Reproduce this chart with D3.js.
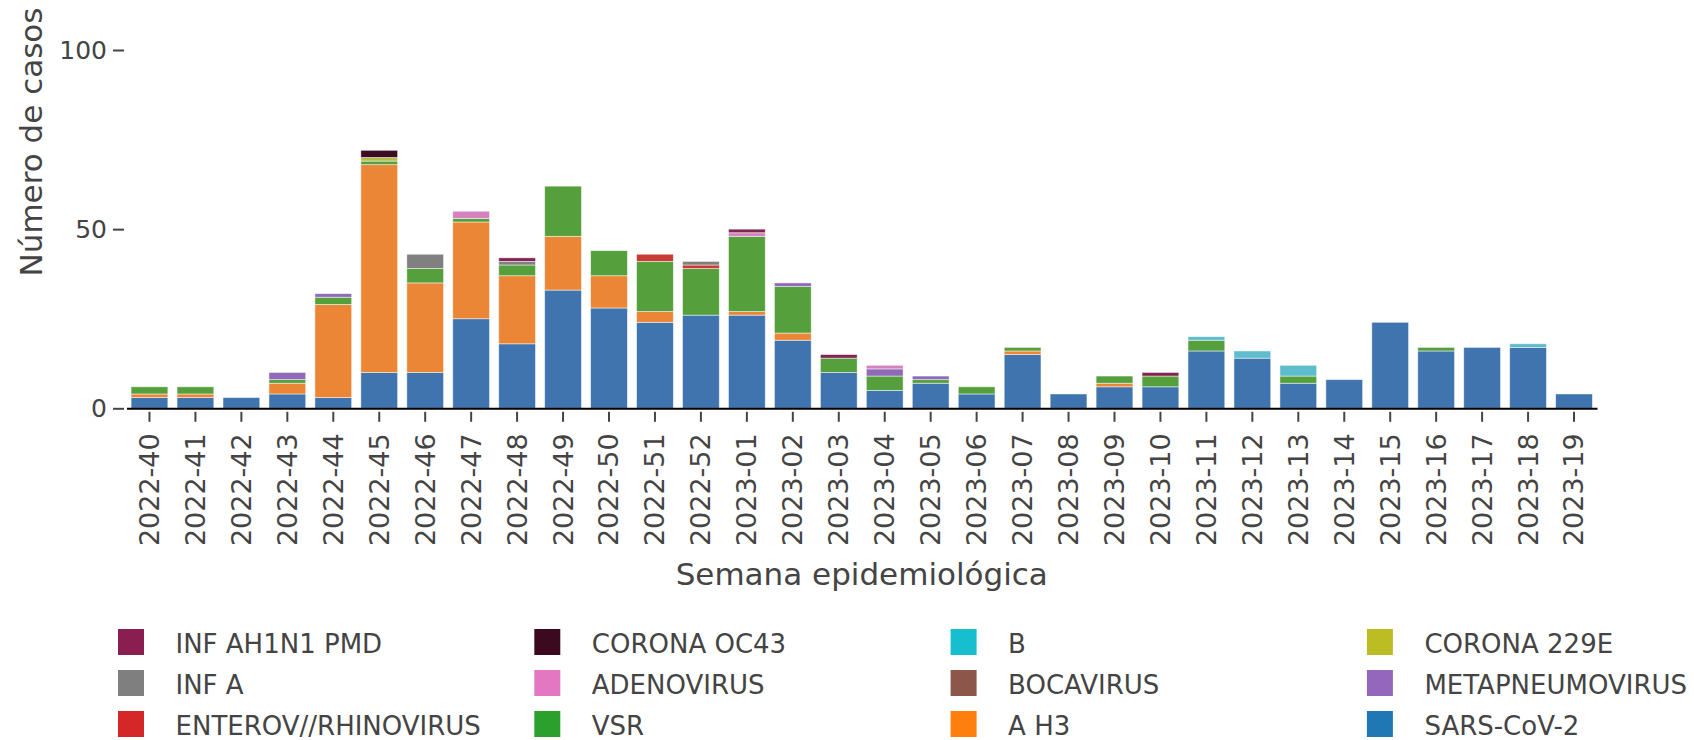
<!DOCTYPE html>
<html>
<head>
<meta charset="utf-8">
<script src="https://cdn.jsdelivr.net/npm/d3@7"></script>
<style>
	body { margin: 0; background: #fff; }
	svg text { font-family: "DejaVu Sans", sans-serif; fill: #444; }
</style>
</head>
<body>
<div class="chart"></div>
<script>
// epidemiological weeks on the x axis
const weeks = ["2022-40", "2022-41", "2022-42", "2022-43", "2022-44", "2022-45", "2022-46", "2022-47",
	"2022-48", "2022-49", "2022-50", "2022-51", "2022-52", "2023-01", "2023-02", "2023-03",
	"2023-04", "2023-05", "2023-06", "2023-07", "2023-08", "2023-09", "2023-10", "2023-11",
	"2023-12", "2023-13", "2023-14", "2023-15", "2023-16", "2023-17", "2023-18", "2023-19"];

// cases per week for each virus
const sarsCov2   = [3, 3, 3, 4, 3, 10, 10, 25, 18, 33, 28, 24, 26, 26, 19, 10, 5, 7, 4, 15, 4, 6, 6, 16, 14, 7, 8, 24, 16, 17, 17, 4];
const aH3        = [1, 1, 0, 3, 26, 58, 25, 27, 19, 15, 9, 3, 0, 1, 2, 0, 0, 0, 0, 1, 0, 1, 0, 0, 0, 0, 0, 0, 0, 0, 0, 0];
const vsr        = [2, 2, 0, 1, 2, 1, 4, 1, 3, 14, 7, 14, 13, 21, 13, 4, 4, 1, 2, 1, 0, 2, 3, 3, 0, 2, 0, 0, 1, 0, 0, 0];
const enterov    = [0, 0, 0, 0, 0, 0, 0, 0, 0, 0, 0, 2, 1, 0, 0, 0, 0, 0, 0, 0, 0, 0, 0, 0, 0, 0, 0, 0, 0, 0, 0, 0];
const metapneumo = [0, 0, 0, 2, 1, 0, 0, 0, 0, 0, 0, 0, 0, 0, 1, 0, 2, 1, 0, 0, 0, 0, 0, 0, 0, 0, 0, 0, 0, 0, 0, 0];
const bocavirus  = [0, 0, 0, 0, 0, 0, 0, 0, 0, 0, 0, 0, 0, 0, 0, 0, 0, 0, 0, 0, 0, 0, 0, 0, 0, 0, 0, 0, 0, 0, 0, 0];
const adenovirus = [0, 0, 0, 0, 0, 0, 0, 2, 0, 0, 0, 0, 0, 1, 0, 0, 1, 0, 0, 0, 0, 0, 0, 0, 0, 0, 0, 0, 0, 0, 0, 0];
const infA       = [0, 0, 0, 0, 0, 0, 4, 0, 1, 0, 0, 0, 1, 0, 0, 0, 0, 0, 0, 0, 0, 0, 0, 0, 0, 0, 0, 0, 0, 0, 0, 0];
const corona229E = [0, 0, 0, 0, 0, 1, 0, 0, 0, 0, 0, 0, 0, 0, 0, 0, 0, 0, 0, 0, 0, 0, 0, 0, 0, 0, 0, 0, 0, 0, 0, 0];
const infB       = [0, 0, 0, 0, 0, 0, 0, 0, 0, 0, 0, 0, 0, 0, 0, 0, 0, 0, 0, 0, 0, 0, 0, 1, 2, 3, 0, 0, 0, 0, 1, 0];
const coronaOC43 = [0, 0, 0, 0, 0, 2, 0, 0, 0, 0, 0, 0, 0, 0, 0, 0, 0, 0, 0, 0, 0, 0, 0, 0, 0, 0, 0, 0, 0, 0, 0, 0];
const ah1n1      = [0, 0, 0, 0, 0, 0, 0, 0, 1, 0, 0, 0, 0, 1, 0, 1, 0, 0, 0, 0, 0, 0, 1, 0, 0, 0, 0, 0, 0, 0, 0, 0];

// stacking order, bottom to top
const seriesNames = ["SARS-CoV-2", "A H3", "VSR", "ENTEROV//RHINOVIRUS", "METAPNEUMOVIRUS", "BOCAVIRUS",
	"ADENOVIRUS", "INF A", "CORONA 229E", "B", "CORONA OC43", "INF AH1N1 PMD"];
const seriesValues = [sarsCov2, aH3, vsr, enterov, metapneumo, bocavirus,
	adenovirus, infA, corona229E, infB, coronaOC43, ah1n1];

const yTicks = [0, 50, 100];
const xTitle = "Semana epidemiológica";
const yTitle = "Número de casos";

// legend swatch colours and the (slightly muted) bar colours
const legendColors = ["#1f77b4", "#ff7f0e", "#2ca02c", "#d62728", "#9467bd", "#8c564b",
	"#e377c2", "#7f7f7f", "#bcbd22", "#17becf", "#3b0a1f", "#8b1e50"];
const barColors = ["#4074ae", "#ec8637", "#55a03d", "#c73d36", "#8e6ab8", "#8a5a50",
	"#d681bf", "#808080", "#b9bd45", "#5fbccd", "#3a0d21", "#7e2550"];

const width = 1694, height = 740;
const plot = { left: 126.5, right: 1597, zero: 408.3, top100: 50 };

drawChart();

function drawChart() {
	let svg = d3.select("div.chart").append("svg")
		.attr("width", width)
		.attr("height", height);

	// one row per week, one column per virus
	let table = weeks.map((w, i) => {
		let row = { week: w };
		seriesNames.forEach((s, k) => row[s] = seriesValues[k][i]);
		return row;
	});
	let stacked = d3.stack().keys(seriesNames)(table);

	let x = d3.scaleBand()
		.domain(weeks)
		.range([plot.left, plot.right])
		.paddingInner(0.2)
		.paddingOuter(0.1);

	let y = d3.scaleLinear()
		.domain([0, 100])
		.range([plot.zero, plot.top100]);

	// bars
	svg.append("g")
		.selectAll("g")
		.data(stacked)
		.join("g")
		  .attr("fill", (d, i) => barColors[i])
		.selectAll("rect")
		.data(d => d.filter(s => s[1] > s[0]))
		.join("rect")
		  .attr("x", d => x(d.data.week))
		  .attr("width", x.bandwidth())
		  .attr("y", d => y(d[1]))
		  .attr("height", d => y(d[0]) - y(d[1]))
		  .attr("stroke", "#fff")
		  .attr("stroke-opacity", 0.6)
		  .attr("stroke-width", 0.8);

	// x axis
	let xAxis = svg.append("g")
		.attr("transform", "translate(0," + plot.zero + ")")
		.call(d3.axisBottom(x).tickSize(0).tickSizeOuter(0));
	xAxis.select(".domain")
		.attr("stroke", "#000")
		.attr("stroke-width", 2);
	xAxis.selectAll(".tick line")
		.attr("y1", 3.5)
		.attr("y2", 13.5)
		.attr("stroke", "#444")
		.attr("stroke-width", 2);
	xAxis.selectAll(".tick text")
		.attr("transform", "translate(0,25) rotate(-90)")
		.attr("x", 0)
		.attr("y", 0)
		.attr("dy", "0.35em")
		.attr("text-anchor", "end")
		.style("font-size", "27px")
		.style("font-family", "DejaVu Sans")
		.attr("fill", "#444");

	// y axis (ticks and labels only)
	let yAxis = svg.append("g")
		.attr("transform", "translate(" + (plot.left - 2.5) + ",0)")
		.call(d3.axisLeft(y).tickValues(yTicks).tickSize(11).tickPadding(6));
	yAxis.select(".domain").remove();
	yAxis.selectAll(".tick line")
		.attr("stroke", "#444")
		.attr("stroke-width", 2);
	yAxis.selectAll(".tick text")
		.style("font-size", "25px")
		.style("font-family", "DejaVu Sans")
		.attr("fill", "#444");

	// axis titles
	svg.append("text")
		.attr("x", (plot.left + plot.right) / 2)
		.attr("y", 585)
		.attr("text-anchor", "middle")
		.style("font-size", "31px")
		.text(xTitle);

	svg.append("text")
		.attr("transform", "translate(42,142) rotate(-90)")
		.attr("text-anchor", "middle")
		.style("font-size", "31px")
		.text(yTitle);

	// legend: 4 columns, entries in reverse stacking order
	let legendItems = seriesNames.map((s, i) => ({ name: s, color: legendColors[i] })).reverse();
	let legend = svg.append("g")
		.selectAll("g")
		.data(legendItems)
		.join("g")
		  .attr("transform", (d, i) => "translate(" + (118 + (i % 4) * 416.3) + "," + (629 + Math.floor(i / 4) * 41) + ")");
	legend.append("rect")
		.attr("width", 26)
		.attr("height", 26)
		.attr("fill", d => d.color);
	legend.append("text")
		.attr("x", 57.5)
		.attr("y", 23.5)
		.style("font-size", "26px")
		.text(d => d.name);
}
</script>
</body>
</html>
